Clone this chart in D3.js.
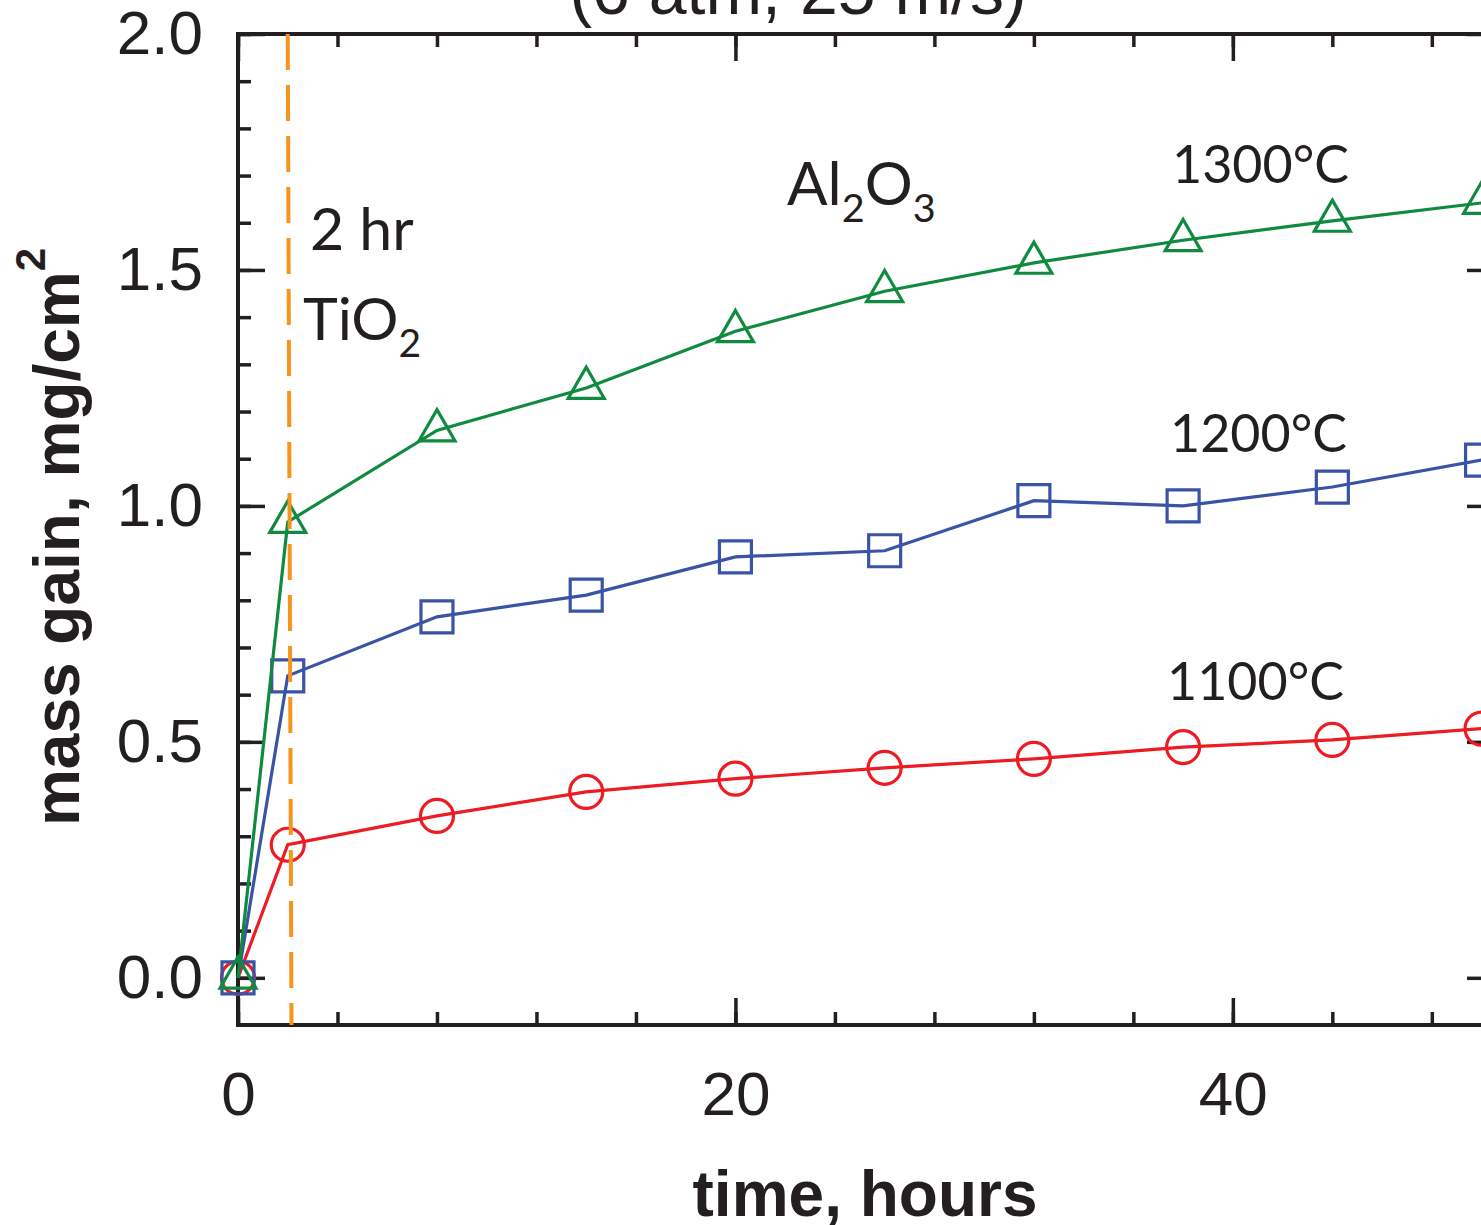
<!DOCTYPE html>
<html>
<head>
<meta charset="utf-8">
<script src="https://cdn.jsdelivr.net/npm/d3@7/dist/d3.min.js"></script>
<style>
  html, body { margin: 0; padding: 0; background: #fff; overflow: hidden; }
  svg { display: block; }
</style>
</head>
<body>
<svg id="chart" width="1481" height="1225"></svg>
<script>
// ---- data ----
const hours    = [0, 2, 8, 14, 20, 26, 32, 38, 44, 50];
const gain1100 = [0, 0.282, 0.343, 0.394, 0.422, 0.445, 0.464, 0.489, 0.504, 0.528];
const gain1200 = [0, 0.640, 0.765, 0.811, 0.892, 0.905, 1.011, 1.000, 1.040, 1.097];
const gain1300 = [0, 0.966, 1.160, 1.250, 1.370, 1.455, 1.515, 1.563, 1.604, 1.642];
const seriesNames = ["1100°C", "1200°C", "1300°C"];
const xMajorTicks = [0, 20, 40];
const xMinorTicks = [0, 4, 8, 12, 16, 20, 24, 28, 32, 36, 40, 44, 48];
const yMajorTicks = [0, 0.5, 1.0, 1.5, 2.0];
const yMinorTicks = [0, 0.1, 0.2, 0.3, 0.4, 0.5, 0.6, 0.7, 0.8, 0.9, 1.0, 1.1, 1.2, 1.3, 1.4, 1.5, 1.6, 1.7, 1.8, 1.9, 2.0];
const markerLineX = [2.0, 2.15];   // dashed 2 hr marker (top, bottom)
const titleText = "(6 atm, 25 m/s)";
const xLabel = "time, hours";
const yLabel = "mass gain, mg/cm";

// ---- layout ----
const svg = d3.select("#chart");
const L = 238, R = 1494, T = 34, B = 1025;
const x = d3.scaleLinear().domain([0, 50.5]).range([L, R]);
const y = d3.scaleLinear().domain([-0.1, 2.0]).range([B, T]);
const ink = "#231f20";
const tickFont = "'Liberation Sans', Arial, sans-serif";
const annFont = "Lato, 'Open Sans', sans-serif";

svg.append("rect").attr("width", 1481).attr("height", 1225).attr("fill", "#fff");

// title (partially cut at top)
svg.append("text").attr("x", 798).attr("y", 14)
  .attr("text-anchor", "middle").attr("font-family", tickFont)
  .attr("font-size", 68).attr("fill", ink).text(titleText);

function styleAxis(g) {
  g.select(".domain").remove();
  g.selectAll("line").attr("stroke", ink).attr("stroke-width", 3.5);
  g.selectAll("text").attr("font-family", tickFont).attr("font-size", 62).attr("fill", ink);
}

// bottom axis
svg.append("g").attr("transform", `translate(0,${B})`)
  .call(d3.axisBottom(x).tickValues(xMinorTicks).tickSize(-13).tickFormat(""))
  .call(styleAxis);
svg.append("g").attr("transform", `translate(0,${B})`)
  .call(d3.axisBottom(x).tickValues(xMajorTicks).tickSize(-27).tickPadding(46).tickFormat(d3.format("d")))
  .call(styleAxis);
// top axis
svg.append("g").attr("transform", `translate(0,${T})`)
  .call(d3.axisTop(x).tickValues(xMinorTicks).tickSize(-13).tickFormat(""))
  .call(styleAxis);
svg.append("g").attr("transform", `translate(0,${T})`)
  .call(d3.axisTop(x).tickValues(xMajorTicks).tickSize(-27).tickFormat(""))
  .call(styleAxis);
// left axis
svg.append("g").attr("transform", `translate(${L},0)`)
  .call(d3.axisLeft(y).tickValues(yMinorTicks).tickSize(-13).tickFormat(""))
  .call(styleAxis);
svg.append("g").attr("transform", `translate(${L},0)`)
  .call(d3.axisLeft(y).tickValues(yMajorTicks).tickSize(-27).tickPadding(35).tickFormat(d3.format(".1f")))
  .call(styleAxis);
// right axis
svg.append("g").attr("transform", `translate(${R},0)`)
  .call(d3.axisRight(y).tickValues(yMinorTicks).tickSize(-13).tickFormat(""))
  .call(styleAxis);
svg.append("g").attr("transform", `translate(${R},0)`)
  .call(d3.axisRight(y).tickValues(yMajorTicks).tickSize(-27).tickFormat(""))
  .call(styleAxis);

// frame
svg.append("rect").attr("x", L).attr("y", T).attr("width", R - L).attr("height", B - T)
  .attr("fill", "none").attr("stroke", ink).attr("stroke-width", 4);

// axis titles
svg.append("text").attr("x", 865).attr("y", 1216)
  .attr("text-anchor", "middle").attr("font-family", tickFont)
  .attr("font-weight", "bold").attr("font-size", 64).attr("fill", ink).text(xLabel);

const yl = svg.append("text").attr("transform", "translate(79,537) rotate(-90)")
  .attr("text-anchor", "middle").attr("font-family", tickFont)
  .attr("font-weight", "bold").attr("font-size", 64).attr("fill", ink);
yl.append("tspan").text(yLabel);
yl.append("tspan").attr("dy", -34).attr("font-size", 42).text("2");

// series
const series = [
  { name: seriesNames[0], vals: gain1100, color: "#ed1c24", sym: d3.symbolCircle, size: 855 },
  { name: seriesNames[1], vals: gain1200, color: "#3a53a4", sym: d3.symbolSquare, size: 1024 },
  { name: seriesNames[2], vals: gain1300, color: "#0f8a3e", sym: d3.symbolTriangle, size: 560 }
];
const line = d3.line().x(d => x(d[0])).y(d => y(d[1]));
series.forEach(s => {
  const pts = hours.map((h, i) => [h, s.vals[i]]);
  svg.append("path").datum(pts).attr("d", line)
    .attr("fill", "none").attr("stroke", s.color).attr("stroke-width", 3.2);
  svg.append("g").selectAll("path").data(pts).join("path")
    .attr("transform", d => `translate(${x(d[0])},${y(d[1])})`)
    .attr("d", d3.symbol().type(s.sym).size(s.size))
    .attr("fill", "none").attr("stroke", s.color).attr("stroke-width", 3.2);
});

// dashed 2 hr line
svg.append("line")
  .attr("x1", x(markerLineX[0])).attr("y1", y(2.0))
  .attr("x2", x(markerLineX[1])).attr("y2", y(-0.1))
  .attr("stroke", "#f7941d").attr("stroke-width", 4)
  .attr("stroke-dasharray", "36 15");

// annotations
function ann(xp, yp, size, parts) {
  const t = svg.append("text").attr("x", xp).attr("y", yp)
    .attr("font-family", annFont).attr("font-size", size).attr("fill", ink);
  parts.forEach(p => {
    const ts = t.append("tspan").text(p.t);
    if (p.sub) ts.attr("font-size", size * 0.66).attr("dy", 17);
    if (p.back) ts.attr("dy", -17);
  });
}
ann(1172, 183, 52, [{ t: seriesNames[2] }]);
ann(1170, 452, 52, [{ t: seriesNames[1] }]);
ann(1167, 700, 52, [{ t: seriesNames[0] }]);
ann(310, 250, 59, [{ t: "2 hr" }]);
ann(303, 340, 59, [{ t: "TiO" }, { t: "2", sub: true }]);
ann(787, 205, 60, [{ t: "Al" }, { t: "2", sub: true }, { t: "O", back: true }, { t: "3", sub: true }]);
</script>
</body>
</html>
